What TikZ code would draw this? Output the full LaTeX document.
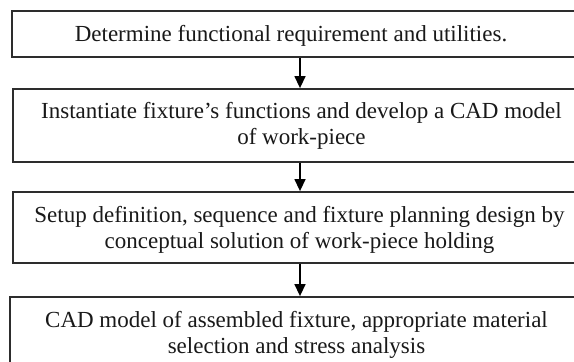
\documentclass[tikz,border=0pt]{standalone}
\usepackage{fontspec}
\setmainfont{Liberation Serif}
\usetikzlibrary{arrows.meta}
\definecolor{edge}{RGB}{45,45,45}
\begin{document}
\begin{tikzpicture}[x=1pt,y=-1pt,
  box/.style={draw=edge, line width=1.8pt, inner sep=0pt},
  txt/.style={align=center, inner sep=0pt, font=\fontsize{23}{26}\selectfont, text=black!90},
  flow/.style={line width=1.4pt, -{Triangle[width=11pt,length=12pt]}}]
\useasboundingbox[fill=white] (0,0) rectangle (574,362);
\node[box, minimum width=568pt, minimum height=46pt] (b1) at (296,34) {};
\node[box, minimum width=567pt, minimum height=73pt] (b2) at (296.5,125.5) {};
\node[box, minimum width=567pt, minimum height=71pt] (b3) at (296.5,227.5) {};
\node[box, minimum width=570pt, minimum height=78pt] (b4) at (295,336) {};
\node[txt] (t1) at (291,36.3) {Determine functional requirement and utilities.};
\node[txt] (t2) at (301.5,125.5) {Instantiate fixture’s functions and develop a CAD model\\of work-piece};
\node[txt] (t3) at (299.5,229.5) {Setup definition, sequence and fixture planning design by\\conceptual solution of work-piece holding};
\node[txt] (t4) at (296.5,334.5) {CAD model of assembled fixture, appropriate material\\selection and stress analysis};
\coordinate (ax) at (300,0);
\draw[flow] (b1.south -| ax) -- (b2.north -| ax);
\draw[flow] (b2.south -| ax) -- (b3.north -| ax);
\draw[flow] (b3.south -| ax) -- (b4.north -| ax);
\end{tikzpicture}
\end{document}
